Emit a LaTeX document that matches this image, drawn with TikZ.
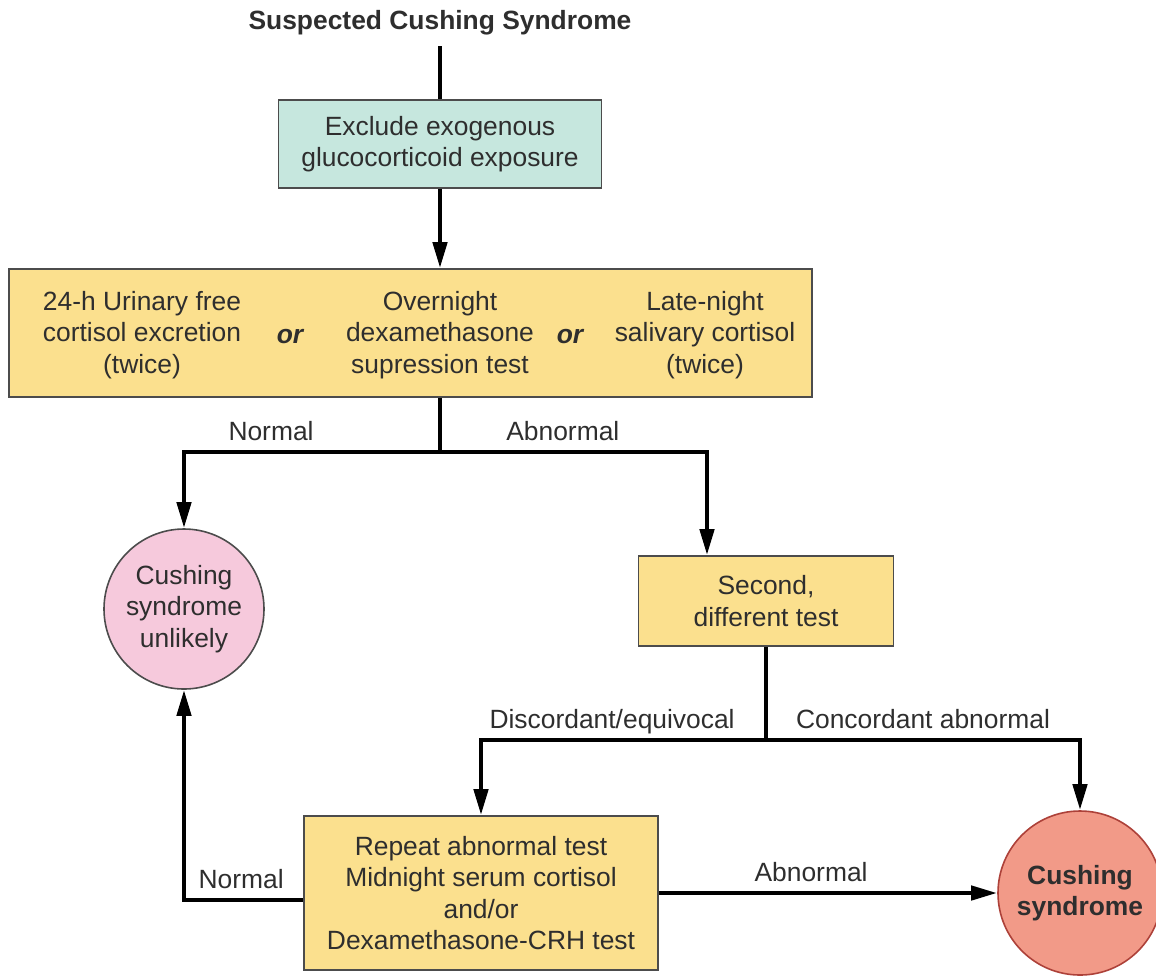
\documentclass[tikz,border=0pt]{standalone}
\usepackage{fontspec}
\setmainfont{Liberation Sans}
\usepackage{xcolor}
\definecolor{Mint}{HTML}{C6E7DE}
\definecolor{Sand}{HTML}{FBE08E}
\definecolor{Rose}{HTML}{F6C9DC}
\definecolor{Salmon}{HTML}{F29A88}
\definecolor{Ink}{HTML}{2E2E2E}
\colorlet{Frame}{black!70}
\colorlet{Brick}{Salmon!60!red!70!black}
\usepackage{tikz}
\usetikzlibrary{arrows.meta,positioning}

\begin{document}
\begin{tikzpicture}[x=0.5pt,y=-0.5pt,every node/.style={font=\fontsize{13.2}{15.6}\selectfont,align=center,text=Ink},
  box/.style={draw=Frame,line width=0.8pt,inner sep=0pt},
  disc/.style={circle,line width=0.8pt,inner sep=0pt},
  orword/.style={font=\fontsize{13.2}{15.6}\selectfont\bfseries\itshape},
  lbl/.style={above,text depth=1.5pt},
  link/.style={line width=2.2pt},
  arr/.style={link,-{Triangle[length=13pt,width=7pt]}}]
\useasboundingbox (0,0) rectangle (1156,976);
\node[font=\fontsize{13.2}{15.6}\selectfont\bfseries] (title) at (440,23) {Suspected Cushing Syndrome};
\node[box,fill=Mint,minimum width=161.5pt,minimum height=44pt] (excl) at (440,144) {Exclude exogenous\\glucocorticoid exposure};
\node[box,fill=Sand,minimum width=401.5pt,minimum height=64pt] (tests) at (410.5,333) {};
\node (ufc) at (142,335) {24-h Urinary free\\cortisol excretion\\(twice)};
\node[orword] (or1) at (290,337) {or};
\node (dst) at (440,335) {Overnight\\dexamethasone\\supression test};
\node[orword] (or2) at (570,337) {or};
\node (lnsc) at (705,335) {Late-night\\salivary cortisol\\(twice)};
\node[disc,draw=Frame,fill=Rose,minimum size=80pt] (unlikely) at (184,609) {Cushing\\syndrome\\unlikely};
\node[box,fill=Sand,minimum width=127.5pt,minimum height=45pt] (second) at (766,601) {Second,\\different test};
\node[box,fill=Sand,minimum width=177pt,minimum height=77pt] (rpt) at (481,893) {Repeat abnormal test\\Midnight serum cortisol\\and/or\\Dexamethasone-CRH test};
\node[disc,draw=Brick,fill=Salmon,minimum size=82pt,font=\fontsize{13.2}{15.6}\selectfont\bfseries] (cushing) at (1080,893) {Cushing\\syndrome};
\coordinate (fork1) at (440,452);
\coordinate (fork2) at (766,740);
% screening
\draw[link,shorten <=2pt] (title.south) -- (excl.north);
\draw[arr] (excl) -- (tests.north -| excl);
\draw[link] (tests.south -| excl) -- (fork1);
\draw[arr] (fork1) -| node[lbl,pos=0.33]{Normal} (unlikely.north);
\draw[arr] (fork1) -| node[lbl,pos=0.23]{Abnormal} ([xshift=-29.5pt]second.north);
% confirmation
\draw[link] (second) -- (fork2);
\draw[arr] (fork2) -| node[lbl,pos=0.27]{Discordant/equivocal} (rpt.north);
\draw[arr] (fork2) -| node[lbl,pos=0.25]{Concordant abnormal} (cushing.north);
\draw[arr] (rpt) -- node[lbl,pos=0.45]{Abnormal} (cushing);
\draw[arr] ([yshift=-3.5pt]rpt.west) -| node[lbl,pos=0.26]{Normal} (unlikely.south);
\end{tikzpicture}
\end{document}
